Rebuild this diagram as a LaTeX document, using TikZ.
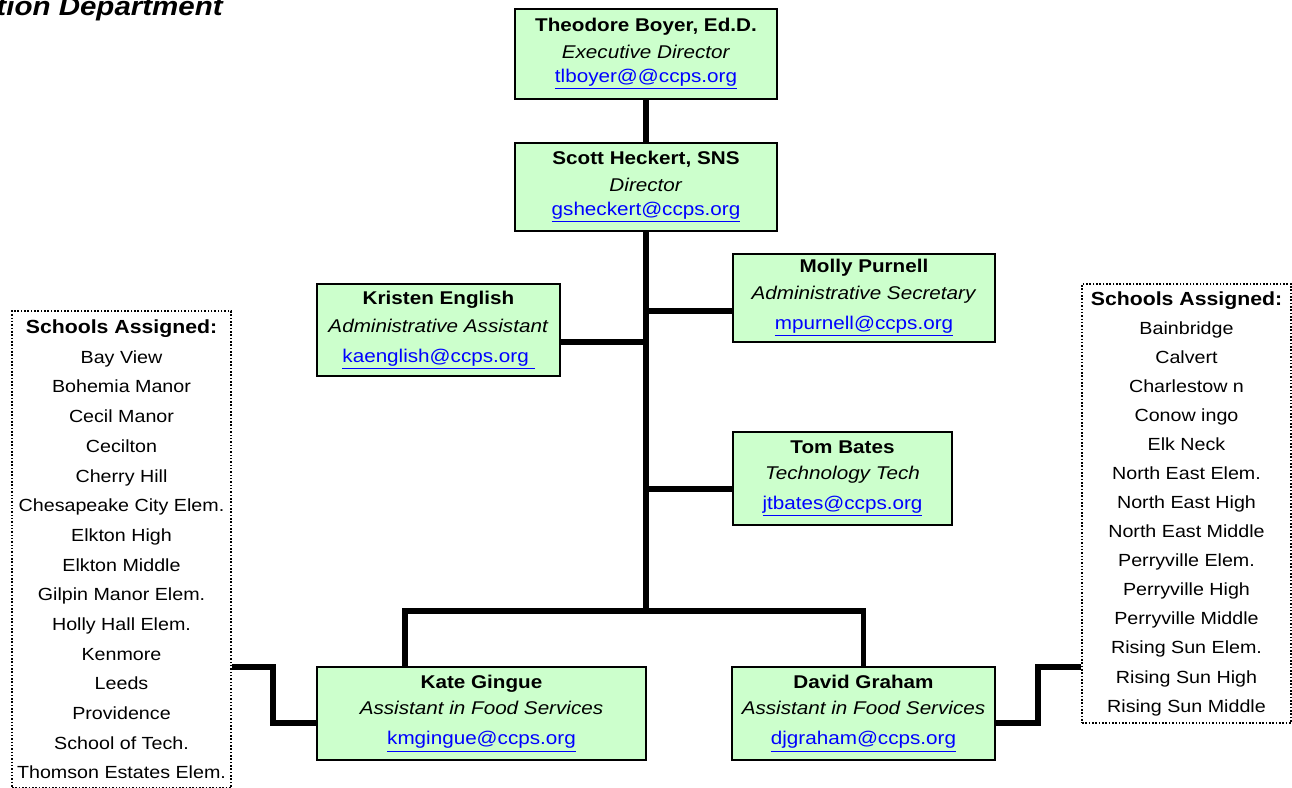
\documentclass[tikz,border=0pt]{standalone}
\usepackage{fontspec}
\setmainfont[FakeStretch=1.12]{Liberation Sans}
\usepackage{tikz}
\usetikzlibrary{positioning}
\definecolor{boxgreen}{HTML}{CCFFCC}
\definecolor{mailblue}{HTML}{0000FF}
\newcommand{\mail}[1]{\textcolor{mailblue}{\underline{#1}}}

\begin{document}
\begin{tikzpicture}[x=0.02cm,y=-0.02cm,
  staff/.style={draw,fill=boxgreen,line width=1.4pt,inner sep=0pt,align=center,
    font=\fontsize{10.5}{15}\selectfont},
  schools/.style={draw,densely dotted,line width=0.9pt,inner sep=0pt,align=center},
  link/.style={line width=3.1pt}]
\useasboundingbox (0,0) rectangle (1292,788);

\node[anchor=base east,font=\fontsize{15}{18}\selectfont\bfseries\itshape] (title) at (229,15) {tion Department};

\node[staff,minimum width=5.24cm,minimum height=1.8cm] (boyer) at (646,54) {
\textbf{Theodore Boyer, Ed.D.}\\
\textit{Executive Director}\\[-1.5pt]
\mail{tlboyer@@ccps.org}
};

\node[staff,minimum width=5.24cm,minimum height=1.76cm] (heckert) at (646,187) {
\textbf{Scott Heckert, SNS}\\
\textit{Director}\\[-1.5pt]
\mail{gsheckert@ccps.org}
};

\node[staff,minimum width=4.86cm,minimum height=1.84cm] (kristen) at (438.5,330) {
\textbf{Kristen English}\\[1pt]
\textit{Administrative Assistant}\\[2pt]
\mail{kaenglish@ccps.org\ }
};

\node[staff,minimum width=5.24cm,minimum height=1.76cm] (molly) at (864,298) {
\textbf{Molly Purnell}\\
\textit{Administrative Secretary}\\[2pt]
\mail{mpurnell@ccps.org}
};

\node[staff,minimum width=4.38cm,minimum height=1.86cm] (tom) at (842.5,478.5) {
\textbf{Tom Bates}\\
\textit{Technology Tech}\\[2pt]
\mail{jtbates@ccps.org}
};

\node[staff,minimum width=6.58cm,minimum height=1.86cm] (kate) at (481.5,713.5) {
\textbf{Kate Gingue}\\
\textit{Assistant in Food Services}\\[2pt]
\mail{kmgingue@ccps.org}
};

\node[staff,minimum width=5.26cm,minimum height=1.86cm] (david) at (863.5,713.5) {
\textbf{David Graham}\\
\textit{Assistant in Food Services}\\[2pt]
\mail{djgraham@ccps.org}
};

\node[schools,minimum width=4.38cm,minimum height=9.54cm,
  font=\fontsize{10}{16.9}\selectfont] (leftlist) at (121.5,549.5) {
{\fontsize{10.8}{16.9}\selectfont\textbf{Schools Assigned:}}\\
Bay View\\ Bohemia Manor\\ Cecil Manor\\ Cecilton\\ Cherry Hill\\
Chesapeake City Elem.\\ Elkton High\\ Elkton Middle\\ Gilpin Manor Elem.\\
Holly Hall Elem.\\ Kenmore\\ Leeds\\ Providence\\ School of Tech.\\
Thomson Estates Elem.
};

\node[schools,minimum width=4.18cm,minimum height=8.78cm,
  font=\fontsize{10}{16.55}\selectfont] (rightlist) at (1186.5,503.5) {
{\fontsize{10.8}{16.55}\selectfont\textbf{Schools Assigned:}}\\
Bainbridge\\ Calvert\\ Charlestow n\\ Conow ingo\\ Elk Neck\\
North East Elem.\\ North East High\\ North East Middle\\ Perryville Elem.\\
Perryville High\\ Perryville Middle\\ Rising Sun Elem.\\ Rising Sun High\\
Rising Sun Middle
};

\coordinate (barL) at (405,611);
\coordinate (barR) at (863.5,611);
\coordinate (kj) at (646,342);
\coordinate (mj) at (646,311);
\coordinate (tj) at (646,489);

\draw[link] (boyer) -- (heckert);
\draw[link] (heckert) -- (heckert |- barL);
\draw[link] (barL |- kate.north) -- (barL) -- (barR) -- (david);
\draw[link] (kristen.east |- kj) -- (kj);
\draw[link] (mj) -- (molly.west |- mj);
\draw[link] (tj) -- (tom.west |- tj);
\draw[link] (leftlist.east |- 0,667) -| (273,723) -- (kate.west |- 0,723);
\draw[link] (david.east |- 0,723) -| (1038,667) -- (rightlist.west |- 0,667);

\end{tikzpicture}
\end{document}
